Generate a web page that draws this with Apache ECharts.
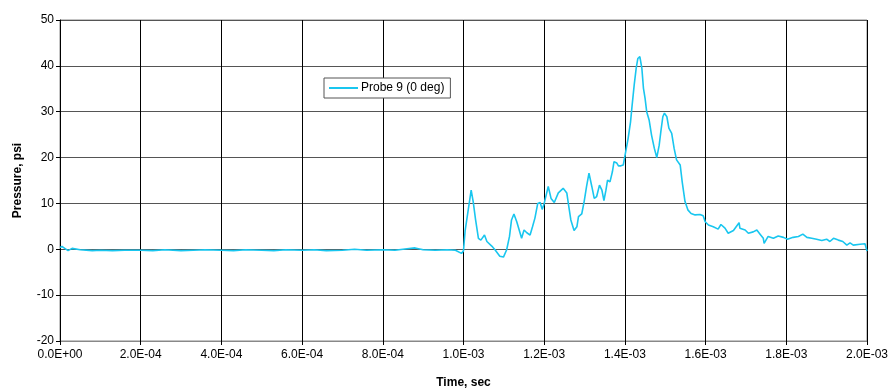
<!DOCTYPE html>
<html>
<head>
<meta charset="utf-8">
<script src="https://cdn.jsdelivr.net/npm/echarts@6/dist/echarts.min.js"></script>
<style>html,body{margin:0;padding:0;background:#fff}#c{width:893px;height:389px}</style>
</head>
<body>
<div id="c"></div>
<script>
// Time (s)
var timeSec = [
  0, 5e-6, 10e-6, 20e-6, 30e-6, 50e-6, 80e-6, 100e-6, 130e-6, 160e-6,
  200e-6, 230e-6, 260e-6, 300e-6, 330e-6, 360e-6, 400e-6, 430e-6, 460e-6, 500e-6,
  530e-6, 560e-6, 600e-6, 630e-6, 660e-6, 700e-6, 730e-6, 760e-6, 800e-6, 830e-6,
  860e-6, 880e-6, 900e-6, 930e-6, 960e-6, 980e-6, 995e-6, 1000e-6,
  1.004e-3, 1.019e-3, 1.024e-3, 1.030e-3, 1.037e-3, 1.043e-3, 1.052e-3, 1.058e-3, 1.070e-3, 1.078e-3,
  1.090e-3, 1.099e-3, 1.107e-3, 1.114e-3, 1.119e-3, 1.125e-3, 1.132e-3, 1.138e-3, 1.144e-3, 1.150e-3,
  1.157e-3, 1.165e-3, 1.171e-3, 1.177e-3, 1.184e-3, 1.190e-3, 1.195e-3, 1.200e-3, 1.210e-3, 1.217e-3,
  1.225e-3, 1.235e-3, 1.247e-3, 1.256e-3, 1.261e-3, 1.266e-3, 1.274e-3, 1.281e-3, 1.285e-3, 1.293e-3,
  1.299e-3, 1.305e-3, 1.311e-3, 1.318e-3, 1.324e-3, 1.330e-3, 1.337e-3, 1.343e-3, 1.348e-3, 1.353e-3,
  1.357e-3, 1.363e-3, 1.369e-3, 1.373e-3, 1.380e-3, 1.384e-3, 1.390e-3, 1.396e-3, 1.402e-3, 1.408e-3,
  1.414e-3, 1.418e-3, 1.423e-3, 1.428e-3, 1.432e-3, 1.437e-3, 1.442e-3, 1.446e-3, 1.450e-3, 1.454e-3,
  1.460e-3, 1.466e-3, 1.473e-3, 1.479e-3, 1.485e-3, 1.489e-3, 1.494e-3, 1.498e-3, 1.504e-3, 1.509e-3,
  1.516e-3, 1.522e-3, 1.528e-3, 1.537e-3, 1.542e-3, 1.549e-3, 1.556e-3, 1.564e-3, 1.574e-3, 1.586e-3,
  1.594e-3, 1.599e-3, 1.607e-3, 1.619e-3, 1.631e-3, 1.638e-3, 1.648e-3, 1.656e-3, 1.669e-3, 1.683e-3,
  1.685e-3, 1.698e-3, 1.706e-3, 1.718e-3, 1.727e-3, 1.735e-3, 1.743e-3, 1.745e-3, 1.755e-3, 1.768e-3,
  1.780e-3, 1.793e-3, 1.803e-3, 1.817e-3, 1.830e-3, 1.841e-3, 1.851e-3, 1.863e-3, 1.875e-3, 1.888e-3,
  1.900e-3, 1.908e-3, 1.917e-3, 1.929e-3, 1.940e-3, 1.950e-3, 1.958e-3, 1.966e-3, 1.983e-3, 1.995e-3,
  1.999e-3, 2.000e-3
];
// Pressure (psi)
var pressurePsi = [
  0.4, 0.6, 0.3, -0.3, 0.2, -0.1, -0.3, -0.2, -0.3, -0.2,
  -0.2, -0.3, -0.1, -0.3, -0.2, -0.1, -0.2, -0.3, -0.1, -0.2,
  -0.3, -0.1, -0.2, -0.1, -0.3, -0.2, 0.0, -0.2, -0.1, -0.2,
  0.1, 0.3, -0.1, -0.2, -0.1, -0.2, -0.9, -0.3,
  4.0, 12.9, 10.4, 6.4, 2.4, 2.0, 3.1, 1.7, 0.7, -0.1,
  -1.5, -1.7, -0.1, 2.8, 6.4, 7.7, 6.0, 4.2, 2.4, 4.2,
  3.6, 3.1, 4.9, 6.8, 10.0, 10.2, 8.7, 10.0, 13.7, 11.1,
  10.2, 12.3, 13.3, 12.3, 9.3, 6.4, 4.1, 4.9, 7.1, 7.7,
  10.4, 13.7, 16.6, 13.7, 11.1, 11.5, 14.0, 12.9, 10.6, 12.9,
  15.1, 14.7, 16.9, 19.1, 18.8, 18.2, 18.2, 18.4, 21.3, 24.2,
  27.8, 31.5, 35.8, 39.5, 41.6, 42.0, 39.5, 35.1, 32.9, 30.0,
  28.2, 24.9, 22.0, 20.0, 22.7, 25.6, 28.9, 29.7, 28.9, 26.4,
  25.3, 22.0, 19.5, 18.4, 14.7, 10.4, 8.6, 7.8, 7.5, 7.6,
  7.3, 6.0, 5.3, 4.9, 4.4, 5.4, 4.6, 3.5, 4.1, 5.8,
  4.6, 4.2, 3.5, 3.8, 4.2, 3.3, 2.4, 1.3, 2.8, 2.4,
  2.9, 2.6, 2.2, 2.6, 2.8, 3.3, 2.6, 2.4, 2.2, 1.9,
  2.2, 1.7, 2.4, 2.0, 1.7, 0.9, 1.4, 0.9, 1.1, 1.2,
  0.9, -0.4
];
var xTickLabels = ['0.0E+00','2.0E-04','4.0E-04','6.0E-04','8.0E-04','1.0E-03','1.2E-03','1.4E-03','1.6E-03','1.8E-03','2.0E-03'];
var seriesName = 'Probe 9 (0 deg)';

var pts = [];
for (var i = 0; i < pressurePsi.length; i++) {
  pts.push([timeSec[i], pressurePsi[i]]);
}

var chart = echarts.init(document.getElementById('c'), null, {renderer: 'canvas'});
var font = 'Liberation Sans, Arial, sans-serif';
chart.setOption({
  animation: false,
  backgroundColor: '#fff',
  grid: {left: 60, right: 26, top: 20, bottom: 48, show: true, borderColor: '#888', borderWidth: 1,
         containLabel: false, outerBoundsMode: 'none'},
  legend: {
    left: 324, top: 78, data: [seriesName],
    backgroundColor: '#fff', borderColor: '#555', borderWidth: 1,
    padding: [4, 6, 4, 5],
    itemWidth: 29, itemHeight: 2, itemGap: 4,
    icon: 'rect',
    textStyle: {fontFamily: font, fontSize: 12, color: '#000', padding: [0, 0, 0, -2]}
  },
  xAxis: {
    type: 'value', min: 0, max: 0.002, interval: 0.0002,
    name: 'Time, sec', nameLocation: 'middle', nameGap: 36,
    nameTextStyle: {fontFamily: font, fontSize: 12, fontWeight: 'bold', color: '#000'},
    axisLine: {onZero: false, lineStyle: {color: '#888'}},
    axisTick: {show: true, length: 4, lineStyle: {color: '#000'}},
    axisLabel: {
      fontFamily: font, fontSize: 12, color: '#000', margin: 8,
      formatter: function (v) { return xTickLabels[Math.round(v / 0.0002)]; }
    },
    splitLine: {show: true, lineStyle: {color: '#000', width: 1}}
  },
  yAxis: {
    type: 'value', min: -20, max: 50, interval: 10,
    name: 'Pressure, psi', nameLocation: 'middle', nameGap: 36, nameRotate: 90,
    nameTextStyle: {fontFamily: font, fontSize: 12, fontWeight: 'bold', color: '#000'},
    axisLine: {show: true, lineStyle: {color: '#000'}},
    axisTick: {show: true, length: 4, lineStyle: {color: '#000'}},
    axisLabel: {fontFamily: font, fontSize: 12, color: '#000', margin: 6},
    splitLine: {show: true, lineStyle: {color: '#555', width: 1}}
  },
  series: [{
    name: seriesName, type: 'line', data: pts,
    showSymbol: false, symbol: 'none',
    lineStyle: {color: '#19c6ef', width: 1.6},
    itemStyle: {color: '#19c6ef'}
  }]
});
</script>
</body>
</html>
